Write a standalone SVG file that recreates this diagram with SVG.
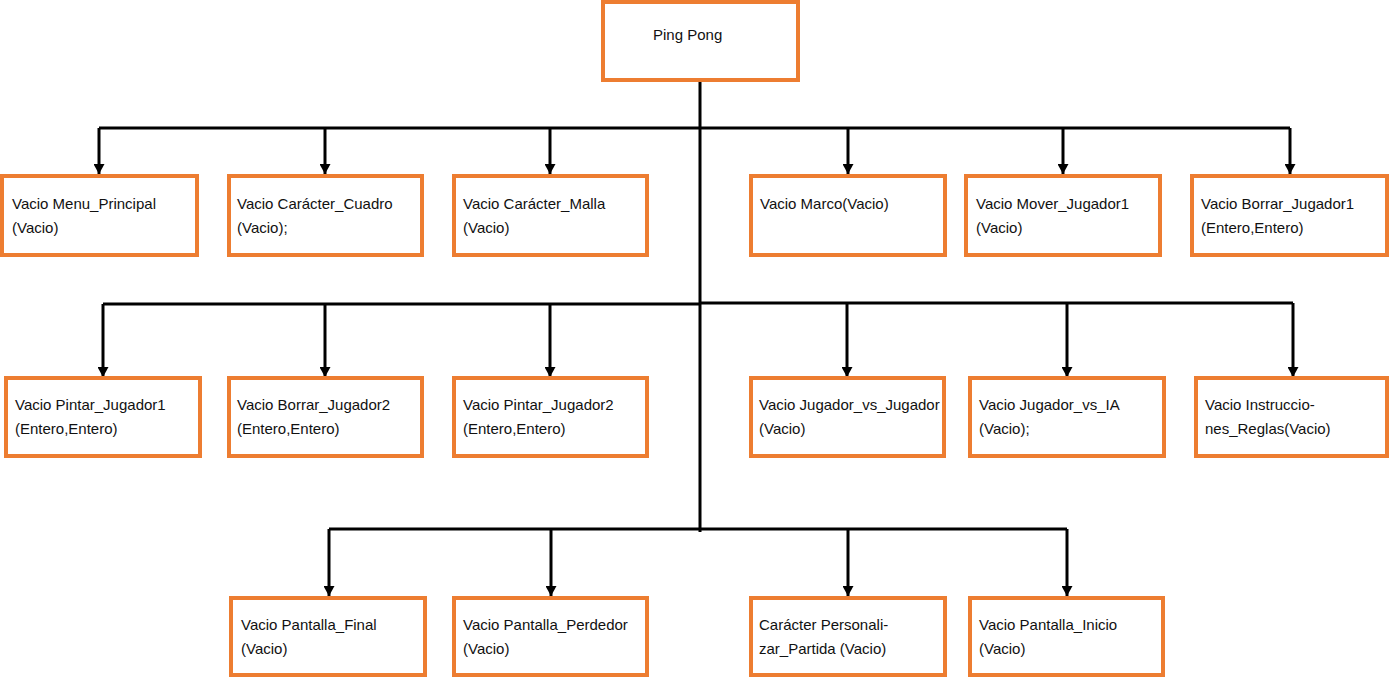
<svg xmlns="http://www.w3.org/2000/svg" width="1393" height="678" viewBox="0 0 1393 678">
<style>
.box{fill:#fff;stroke:#ED7D31;stroke-width:4}
.t{font-family:"Liberation Sans",Arial,sans-serif;font-size:15px;fill:#111}
.c{fill:none;stroke:#000;stroke-width:3}
.a{fill:none;stroke:#000;stroke-width:3;marker-end:url(#ah)}
</style>
<defs>
<marker id="ah" markerUnits="userSpaceOnUse" markerWidth="11" markerHeight="11" refX="10" refY="5.5" orient="auto" viewBox="0 0 10 11">
<path d="M0,0 L10,5.5 L0,11 z" fill="#000"/>
</marker>
</defs>
<rect width="1393" height="678" fill="#fff"/>
<g id="connectors">
<path class="c" d="M700,82 V532"/>
<path class="c" d="M99,128 H1290"/>
<path class="a" d="M99,128 V174"/>
<path class="a" d="M325,128 V174"/>
<path class="a" d="M550,128 V174"/>
<path class="a" d="M848,128 V174"/>
<path class="a" d="M1063,128 V174"/>
<path class="a" d="M1290,128 V174"/>
<path class="c" d="M103,304 H700"/>
<path class="c" d="M700,303 H1293"/>
<path class="a" d="M103,304 V377"/>
<path class="a" d="M325,304 V377"/>
<path class="a" d="M550,304 V377"/>
<path class="a" d="M847,303 V377"/>
<path class="a" d="M1067,303 V377"/>
<path class="a" d="M1293,303 V377"/>
<path class="c" d="M329,529 H1067"/>
<path class="a" d="M329,529 V596"/>
<path class="a" d="M551,529 V596"/>
<path class="a" d="M848,529 V596"/>
<path class="a" d="M1067,529 V596"/>
</g>
<g id="root"><rect class="box" x="603" y="2" width="195" height="78"/><text class="t" x="653" y="40">Ping Pong</text></g>
<g id="n1"><rect class="box" x="2" y="176" width="195" height="79"/><text class="t" x="12" y="209">Vacio Menu_Principal</text><text class="t" x="12" y="233">(Vacio)</text></g>
<g id="n2"><rect class="box" x="229" y="176" width="193" height="79"/><text class="t" x="237" y="209">Vacio Carácter_Cuadro</text><text class="t" x="237" y="233">(Vacio);</text></g>
<g id="n3"><rect class="box" x="454" y="176" width="193" height="79"/><text class="t" x="463" y="209">Vacio Carácter_Malla</text><text class="t" x="463" y="233">(Vacio)</text></g>
<g id="n4"><rect class="box" x="751" y="176" width="194" height="79"/><text class="t" x="760" y="209">Vacio Marco(Vacio)</text></g>
<g id="n5"><rect class="box" x="966" y="176" width="194" height="79"/><text class="t" x="976" y="209">Vacio Mover_Jugador1</text><text class="t" x="976" y="233">(Vacio)</text></g>
<g id="n6"><rect class="box" x="1192" y="176" width="195" height="79"/><text class="t" x="1201" y="209">Vacio Borrar_Jugador1</text><text class="t" x="1201" y="233">(Entero,Entero)</text></g>
<g id="n7"><rect class="box" x="6" y="378" width="194" height="78"/><text class="t" x="15" y="410">Vacio Pintar_Jugador1</text><text class="t" x="15" y="434">(Entero,Entero)</text></g>
<g id="n8"><rect class="box" x="229" y="378" width="193" height="78"/><text class="t" x="237" y="410">Vacio Borrar_Jugador2</text><text class="t" x="237" y="434">(Entero,Entero)</text></g>
<g id="n9"><rect class="box" x="454" y="378" width="193" height="78"/><text class="t" x="463" y="410">Vacio Pintar_Jugador2</text><text class="t" x="463" y="434">(Entero,Entero)</text></g>
<g id="n10"><rect class="box" x="751" y="378" width="193" height="78"/><text class="t" x="759" y="410">Vacio Jugador_vs_Jugador</text><text class="t" x="759" y="434">(Vacio)</text></g>
<g id="n11"><rect class="box" x="970" y="378" width="194" height="78"/><text class="t" x="979" y="410">Vacio Jugador_vs_IA</text><text class="t" x="979" y="434">(Vacio);</text></g>
<g id="n12"><rect class="box" x="1196" y="378" width="191" height="78"/><text class="t" x="1205" y="410">Vacio Instruccio-</text><text class="t" x="1205" y="434">nes_Reglas(Vacio)</text></g>
<g id="n13"><rect class="box" x="231" y="598" width="194" height="77"/><text class="t" x="241" y="630">Vacio Pantalla_Final</text><text class="t" x="241" y="654">(Vacio)</text></g>
<g id="n14"><rect class="box" x="454" y="598" width="193" height="77"/><text class="t" x="463" y="630">Vacio Pantalla_Perdedor</text><text class="t" x="463" y="654">(Vacio)</text></g>
<g id="n15"><rect class="box" x="751" y="598" width="194" height="77"/><text class="t" x="759" y="630">Carácter Personali-</text><text class="t" x="759" y="654">zar_Partida (Vacio)</text></g>
<g id="n16"><rect class="box" x="970" y="598" width="193" height="77"/><text class="t" x="979" y="630">Vacio Pantalla_Inicio</text><text class="t" x="979" y="654">(Vacio)</text></g>
</svg>
